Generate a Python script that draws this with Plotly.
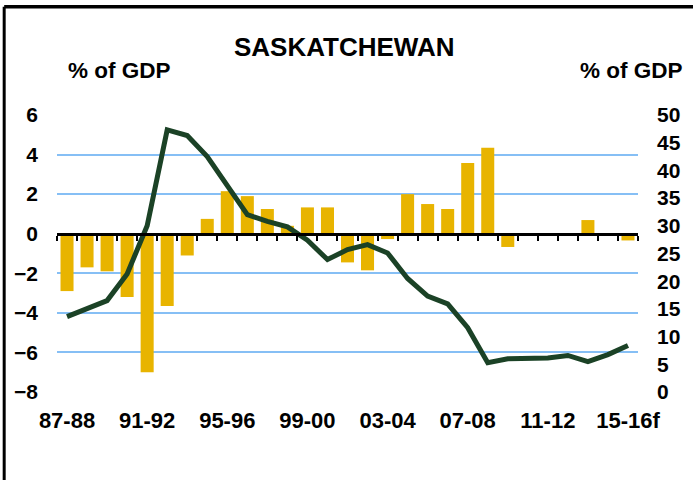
import plotly.graph_objects as go

# ---- data ----
years = list(range(1987, 2016))
categories = [f"{y % 100:02d}-{(y + 1) % 100:02d}" for y in years]
categories[-1] = categories[-1] + "f"

balance_pct_gdp = [-2.9, -1.7, -1.9, -3.2, -7.0, -3.65, -1.1, 0.75, 2.15, 1.9,
                   1.25, 0.4, 1.33, 1.33, -1.45, -1.85, -0.27, 2.0, 1.5, 1.25,
                   3.57, 4.35, -0.67, 0.0, -0.1, 0.0, 0.69, 0.0, -0.34]

debt_pct_gdp = [13.6, 15.0, 16.5, 21.3, 30.0, 47.3, 46.3, 42.5, 37.4, 32.0,
                30.8, 29.8, 27.4, 23.9, 25.7, 26.6, 25.1, 20.5, 17.3, 15.9,
                11.6, 5.3, 6.0, 6.05, 6.15, 6.6, 5.5, 6.75, 8.4]

tick_labels = categories[::4]
left_ticks = list(range(-8, 7, 2))
right_ticks = list(range(0, 51, 5))
boundaries = [i - 0.5 for i in range(len(categories) + 1)]

FONT = "Liberation Sans, Arial, sans-serif"

fig = go.Figure()
fig.add_trace(go.Bar(x=categories, y=balance_pct_gdp, marker_color="#E8B400",
                     marker_line_width=0, yaxis="y", showlegend=False))
fig.add_trace(go.Scatter(x=categories, y=debt_pct_gdp, mode="lines",
                         line=dict(color="#1B4226", width=5), yaxis="y2",
                         showlegend=False))
# helper trace so the zero-line axis (x2) is drawn
fig.add_trace(go.Scatter(x=[0], y=[0], xaxis="x2", yaxis="y", mode="markers",
                         marker=dict(opacity=0), showlegend=False, hoverinfo="skip"))

fig.update_layout(
    width=693, height=480,
    margin=dict(l=57, r=53, t=115, b=88),
    paper_bgcolor="white", plot_bgcolor="white",
    bargap=0.35,
    font=dict(family=FONT, size=22, color="black", weight="bold"),
    xaxis=dict(type="category", range=[-0.5, len(categories) - 0.5],
               tickvals=tick_labels, ticktext=tick_labels, showgrid=False,
               showline=False, ticks="", ticklabelstandoff=13,
               tickfont=dict(family=FONT, size=22, weight="bold")),
    xaxis2=dict(overlaying="x", anchor="free", position=8 / 14,
                range=[-0.5, len(categories) - 0.5], tickvals=boundaries,
                showticklabels=False, showgrid=False, ticks="outside",
                ticklen=5, tickwidth=2, tickcolor="black",
                showline=True, linecolor="black", linewidth=3, zeroline=False),
    yaxis=dict(range=[-8, 6], tickvals=left_ticks, showgrid=True,
               gridcolor="#86BFF5", gridwidth=1.6, zeroline=False,
               ticks="", ticklabelstandoff=18,
               tickfont=dict(family=FONT, size=21, weight="bold")),
    yaxis2=dict(range=[0, 50], tickvals=right_ticks, overlaying="y",
                side="right", showgrid=False, zeroline=False, ticks="",
                ticklabelstandoff=18,
                tickfont=dict(family=FONT, size=21, weight="bold")),
    annotations=[
        dict(text="SASKATCHEWAN", xref="paper", yref="paper", x=0.494, y=1.245,
             showarrow=False, xanchor="center", yanchor="middle",
             font=dict(family=FONT, size=26, weight="bold")),
        dict(text="% of GDP", xref="paper", yref="paper", x=0.108, y=1.162,
             showarrow=False, xanchor="center", yanchor="middle",
             font=dict(family=FONT, size=22.5, weight="bold")),
        dict(text="% of GDP", xref="paper", yref="paper", x=0.988, y=1.162,
             showarrow=False, xanchor="center", yanchor="middle",
             font=dict(family=FONT, size=22.5, weight="bold")),
    ],
    shapes=[
        dict(type="line", xref="paper", yref="paper", x0=-0.0909, x1=1.2,
             y0=1.391, y1=1.391, line=dict(color="black", width=3.5)),
        dict(type="line", xref="paper", yref="paper", x0=-0.0909, x1=-0.0909,
             y0=-0.5, y1=1.391, line=dict(color="black", width=3)),
    ],
)

fig.write_html("out.html", config={"displayModeBar": False},
               post_script="document.body.style.margin='0';document.body.style.overflow='hidden';")
